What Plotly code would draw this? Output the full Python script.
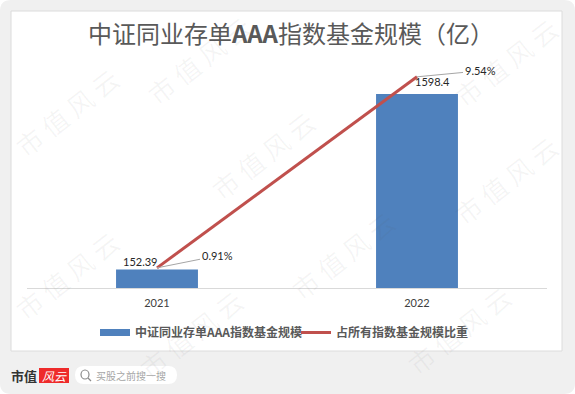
import plotly.graph_objects as go

years = ["2021", "2022"]
fund_size = [152.39, 1598.4]
share_pct = [0.91, 9.54]
size_labels = ["152.39", "1598.4"]
share_labels = ["0.91%", "9.54%"]
title_text = "中证同业存单<b>AAA</b>指数基金规模（亿）"
bar_name = "<b>中证同业存单AAA指数基金规模</b>"
line_name = "<b>占所有指数基金规模比重</b>"

W, H = 575, 394
L, R, T, B = 27, 547, 60, 288
CJK = "Noto Sans CJK SC"
LAT = "Lato, 'Noto Sans CJK SC'"
BLUE, RED = "#4f81bd", "#c0504d"

def px(x):
    return (x - L) / (R - L)

def py(y):
    return (B - y) / (B - T)

fig = go.Figure()
fig.add_trace(go.Bar(x=years, y=fund_size, marker=dict(color=BLUE, line_width=0),
                     width=0.315, showlegend=False, yaxis="y"))
fig.add_trace(go.Scatter(x=years, y=[None, None], mode="lines", name=bar_name,
                         line=dict(color=BLUE, width=7), yaxis="y"))
fig.add_trace(go.Scatter(x=years, y=share_pct, mode="lines", name=line_name,
                         line=dict(color=RED, width=3), yaxis="y2"))

r = 11
outer = (f"M{px(r)},{py(0)} L{px(W-r)},{py(0)} Q{px(W)},{py(0)} {px(W)},{py(r)} "
         f"L{px(W)},{py(H-r)} Q{px(W)},{py(H)} {px(W-r)},{py(H)} L{px(r)},{py(H)} "
         f"Q{px(0)},{py(H)} {px(0)},{py(H-r)} L{px(0)},{py(r)} Q{px(0)},{py(0)} {px(r)},{py(0)} Z")
shapes = [
    dict(type="path", path=outer, xref="paper", yref="paper", fillcolor="#f0f0f0",
         line_width=0, layer="below"),
    dict(type="rect", xref="paper", yref="paper", x0=px(11), x1=px(562), y0=py(351), y1=py(11),
         fillcolor="white", line=dict(color="#dcdcdc", width=1), layer="below"),
    dict(type="rect", xref="paper", yref="paper", x0=px(39), x1=px(69), y0=py(383), y1=py(368),
         fillcolor="#ee2b2b", line_width=0, layer="below"),
    dict(type="path", xref="paper", yref="paper", fillcolor="white", line_width=0, layer="below",
         path=(f"M{px(84)},{py(366)} L{px(168)},{py(366)} Q{px(177)},{py(366)} {px(177)},{py(375)} "
               f"Q{px(177)},{py(384)} {px(168)},{py(384)} L{px(84)},{py(384)} "
               f"Q{px(75)},{py(384)} {px(75)},{py(375)} Q{px(75)},{py(366)} {px(84)},{py(366)} Z")),
    dict(type="circle", xref="paper", yref="paper", x0=px(81), x1=px(89), y0=py(379), y1=py(370),
         line=dict(color="#8a8a8a", width=1.2), layer="below"),
    dict(type="line", xref="paper", yref="paper", x0=px(88), x1=px(91), y0=py(378), y1=py(381),
         line=dict(color="#8a8a8a", width=1.2), layer="below"),
]

annotations = []

def label(text, x, y, size, color, font=CJK, anchor="center", angle=0):
    annotations.append(dict(text=text, xref="paper", yref="paper", x=px(x), y=py(y),
                            xanchor=anchor, yanchor="middle", showarrow=False, textangle=angle,
                            font=dict(family=font, size=size, color=color)))

# watermark, kept inside the page
for wx, wy in [(198, 60), (262, 155), (66, 275), (342, 255), (458, 330), (505, 62),
               (505, 180), (66, 112), (190, 334)]:
    label("市 值 风 云", wx, wy, 26, "rgba(90,90,90,0.06)", angle=-38)

label(title_text, 291, 33, 24, "#595959")
label("<b>市值</b>", 24, 375, 13, "#333333")
label("<i>风云</i>", 54, 375, 12, "white")
label("买股之前搜一搜", 131, 375, 10, "#a6a6a6")

# category axis positions are the indices of years
for i, (v, text, dx, dy) in enumerate(zip(fund_size, size_labels, [-17, 15], [0, -4])):
    annotations.append(dict(text=text, x=i, y=v, xref="x", yref="y", xshift=dx, yshift=-dy,
                            yanchor="bottom", showarrow=False,
                            font=dict(family=LAT, size=11, color="#262626")))
for i, (v, text, (ax, ay)) in enumerate(zip(share_pct, share_labels, [(60, -12), (63, -6)])):
    annotations.append(dict(text=text, x=i, y=v, xref="x", yref="y2", ax=ax, ay=ay,
                            axref="pixel", ayref="pixel", showarrow=True, arrowhead=0,
                            arrowwidth=1, arrowcolor="#a6a6a6",
                            font=dict(family=LAT, size=11, color="#262626")))

fig.update_layout(
    width=W, height=H, autosize=False,
    margin=dict(l=L, r=W - R, t=T, b=H - B, pad=0),
    paper_bgcolor="white", plot_bgcolor="rgba(0,0,0,0)",
    xaxis=dict(type="category", categoryorder="array", categoryarray=years, range=[-0.5, 1.5],
               showgrid=False, showline=True, linecolor="#d9d9d9", linewidth=1, ticks="",
               ticklabelstandoff=5,
               tickfont=dict(family=LAT, size=11, color="#404040"), zeroline=False),
    yaxis=dict(range=[0, 1878], visible=False, fixedrange=True),
    yaxis2=dict(range=[0, 10.3], visible=False, overlaying="y", side="right", fixedrange=True),
    legend=dict(orientation="h", x=px(95), y=py(318), xanchor="left", yanchor="top",
                bgcolor="rgba(0,0,0,0)", font=dict(family=CJK, size=12, color="#595959"),
                itemwidth=30, traceorder="normal", entrywidth=156, entrywidthmode="pixels"),
    shapes=shapes, annotations=annotations, showlegend=True,
)
fig.write_html("out.html", config={"displayModeBar": False},
               post_script="document.body.style.margin='0';")
